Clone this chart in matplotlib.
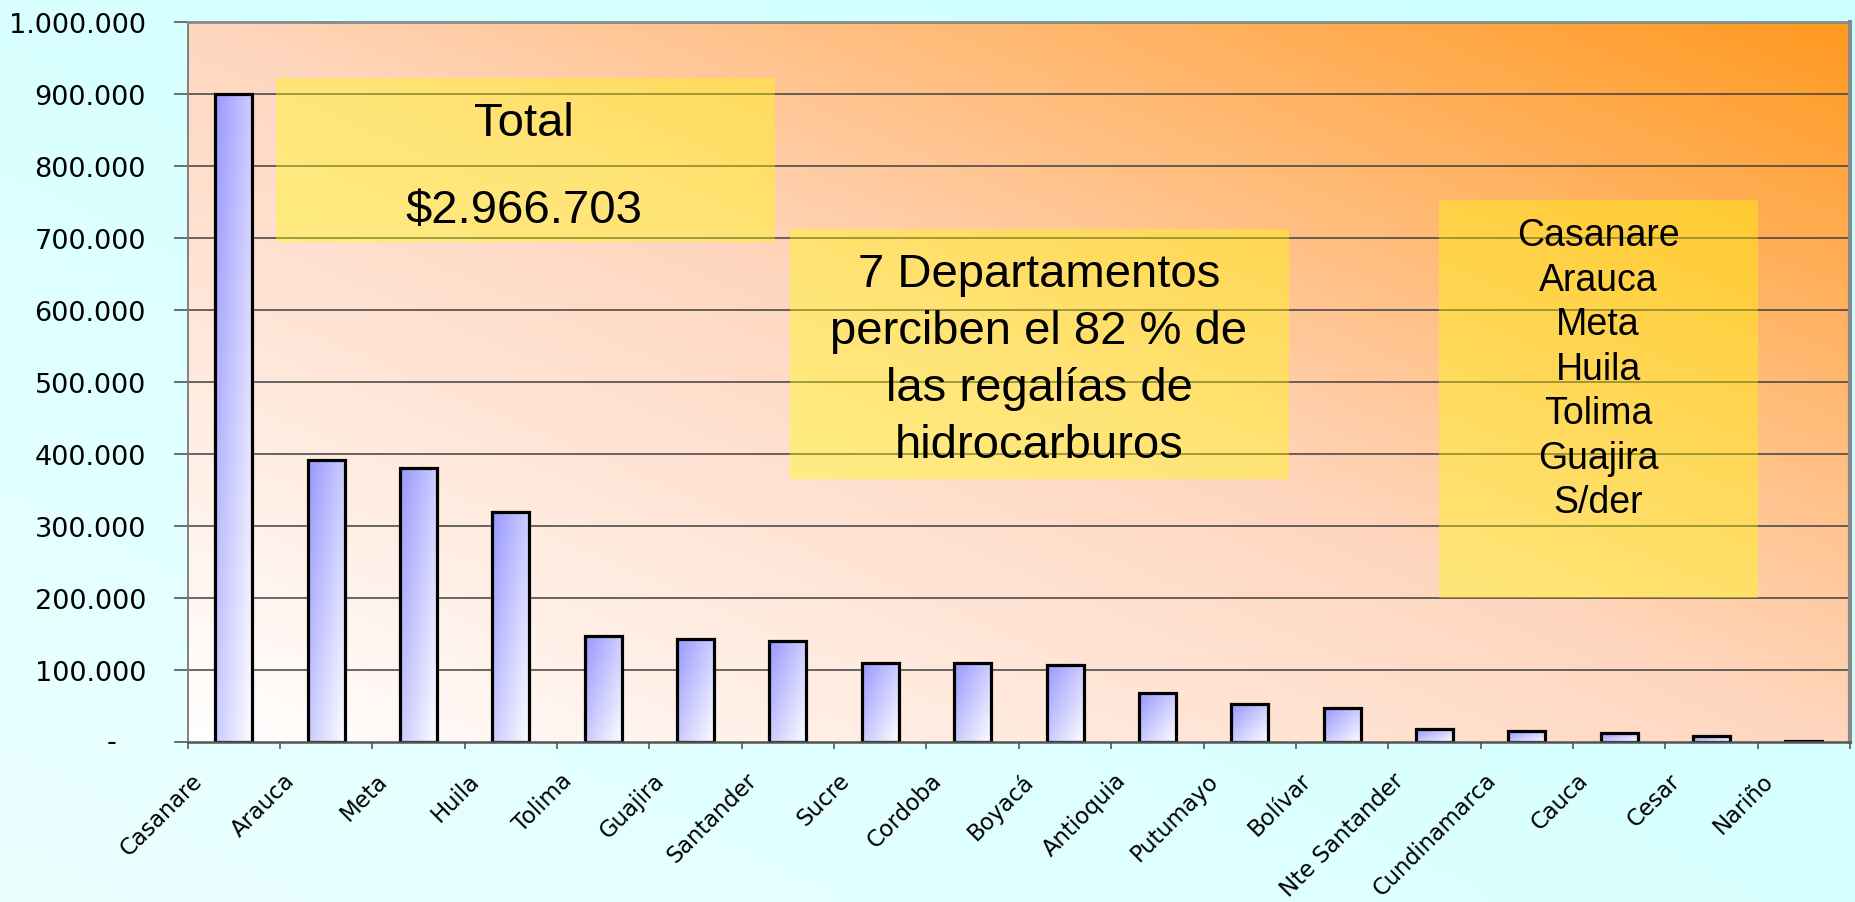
import numpy as np
import matplotlib
matplotlib.use('Agg')
import matplotlib.pyplot as plt
from matplotlib.patches import Rectangle
from matplotlib.colors import LinearSegmentedColormap

# data
departamentos = ['Casanare', 'Arauca', 'Meta', 'Huila', 'Tolima', 'Guajira',
                 'Santander', 'Sucre', 'Cordoba', 'Boyacá', 'Antioquia',
                 'Putumayo', 'Bolívar', 'Nte Santander', 'Cundinamarca',
                 'Cauca', 'Cesar', 'Nariño']
regalias = [900000, 391000, 381000, 319000, 147000, 143000, 140000, 110000,
            109000, 106000, 68000, 52000, 47000, 18000, 15000, 12000, 8000, 1500]
yticks = [0, 100000, 200000, 300000, 400000, 500000, 600000, 700000, 800000,
          900000, 1000000]
ytick_labels = ['', '100.000', '200.000', '300.000', '400.000', '500.000',
                '600.000', '700.000', '800.000', '900.000', '1.000.000']
total_lines = ['Total', '$2.966.703']
nota_lines = ['7 Departamentos', 'perciben el 82 % de', 'las regalías de',
              'hidrocarburos']
top7 = ['Casanare', 'Arauca', 'Meta', 'Huila', 'Tolima', 'Guajira', 'S/der']

fig = plt.figure(figsize=(18.56, 9.03), dpi=100)

# light cyan background of the slide
bg = fig.add_axes([0, 0, 1, 1], zorder=-10)
gx, gy = np.meshgrid(np.linspace(0, 1, 64), np.linspace(0, 1, 64))
bg_cmap = LinearSegmentedColormap.from_list('bgc', ['#ECFFFF', '#D8FFFF', '#CCFFFF'])
bg.imshow((gx + (1 - gy)) / 2, cmap=bg_cmap, extent=(0, 1, 0, 1), aspect='auto',
          interpolation='bicubic', vmin=0, vmax=1)
bg.axis('off')

ax = fig.add_axes([0.1011, 0.1775, 0.8957, 0.7967])
n = len(departamentos)
x = np.arange(n)
xlim = (-0.5, n - 0.5)
ylim = (0, 1000000)

# plot area gradient: white bottom-left -> peach -> orange top-right
pa_cmap = LinearSegmentedColormap.from_list('pa', ['#FFFFFF', '#FFD6BE', '#FF9A22'])
ax.imshow((gx + (1 - gy)) / 2, cmap=pa_cmap, extent=(xlim[0], xlim[1], ylim[0], ylim[1]),
          aspect='auto', interpolation='bicubic', vmin=0, vmax=1, zorder=0)

for v in yticks[1:-1]:
    ax.axhline(v, color='#404040', lw=1.1, zorder=1)

bars = ax.bar(x, regalias, width=0.4, facecolor='none', edgecolor='black',
              linewidth=2.3, zorder=3)

# blue -> white gradient inside each bar
rows, cols = 60, 20
uu, rr = np.meshgrid(np.linspace(0, 1, cols), np.linspace(0, 1, rows))
tt = (uu + rr) / 2
dark = np.array([153, 153, 255]) / 255.0
light = np.array([252, 252, 255]) / 255.0
grad = dark[None, None, :] + (light - dark)[None, None, :] * tt[:, :, None]
for b in bars:
    x0, w, h = b.get_x(), b.get_width(), b.get_height()
    ax.imshow(grad, extent=(x0, x0 + w, 0, h), aspect='auto',
              interpolation='bilinear', zorder=2)

ax.set_xlim(xlim)
ax.set_ylim(ylim)

# ticks
ax.set_yticks(yticks)
ax.set_yticklabels(ytick_labels)
ax.tick_params(axis='y', direction='out', length=10, width=1.2, color='#555555',
               pad=20, labelsize=19.5)
ax.set_xticks(np.arange(n + 1) - 0.5)
ax.set_xticklabels([])
ax.tick_params(axis='x', direction='out', length=5, width=1.2, color='#555555')
for lab in ax.get_yticklabels():
    lab.set_family('DejaVu Sans')

ax.annotate('-', xy=(0, 0), xycoords=('axes fraction', 'data'), xytext=(-51, 0),
            textcoords='offset points', ha='right', va='center', fontsize=19.5,
            family='DejaVu Sans')

for i, name in enumerate(departamentos):
    ax.annotate(name, xy=(x[i], 0), xycoords=('data', 'axes fraction'),
                xytext=(-19, -19), textcoords='offset points', rotation=45,
                ha='right', va='top', fontsize=16.3, family='DejaVu Sans',
                annotation_clip=False)

ax.spines['left'].set_color('#777777')
ax.spines['left'].set_linewidth(1.3)
ax.spines['bottom'].set_color('#555555')
ax.spines['bottom'].set_linewidth(1.8)
ax.spines['top'].set_color('#888888')
ax.spines['top'].set_linewidth(2)
ax.spines['right'].set_color('#8A8A8A')
ax.spines['right'].set_linewidth(3)
for s in ax.spines.values():
    s.set_zorder(6)

# yellow text boxes
ax.add_patch(Rectangle((0.0531, 0.6946), 0.3002, 0.228, transform=ax.transAxes,
                       facecolor='#FFFF00', alpha=0.37, edgecolor='none', zorder=4))
ax.add_patch(Rectangle((0.3623, 0.3652), 0.3002, 0.3475, transform=ax.transAxes,
                       facecolor='#FFFF00', alpha=0.37, edgecolor='none', zorder=4))
ax.add_patch(Rectangle((0.7527, 0.1997), 0.1918, 0.5533, transform=ax.transAxes,
                       facecolor='#FFFF00', alpha=0.37, edgecolor='none', zorder=4))

for line, yb in zip(total_lines, [0.8433, 0.7224]):
    ax.text(0.2023, yb, line, transform=ax.transAxes, ha='center', va='baseline',
            fontsize=34, family='Liberation Sans', zorder=5)

for k, line in enumerate(nota_lines):
    ax.text(0.5121, 0.6335 - k * 0.0792, line, transform=ax.transAxes, ha='center',
            va='baseline', fontsize=34, family='Liberation Sans', zorder=5)

for k, line in enumerate(top7):
    ax.text(0.8484, 0.6902 - k * 0.0619, line, transform=ax.transAxes, ha='center',
            va='baseline', fontsize=27, family='Liberation Sans', zorder=5)

fig.savefig('out.png', dpi=100)
